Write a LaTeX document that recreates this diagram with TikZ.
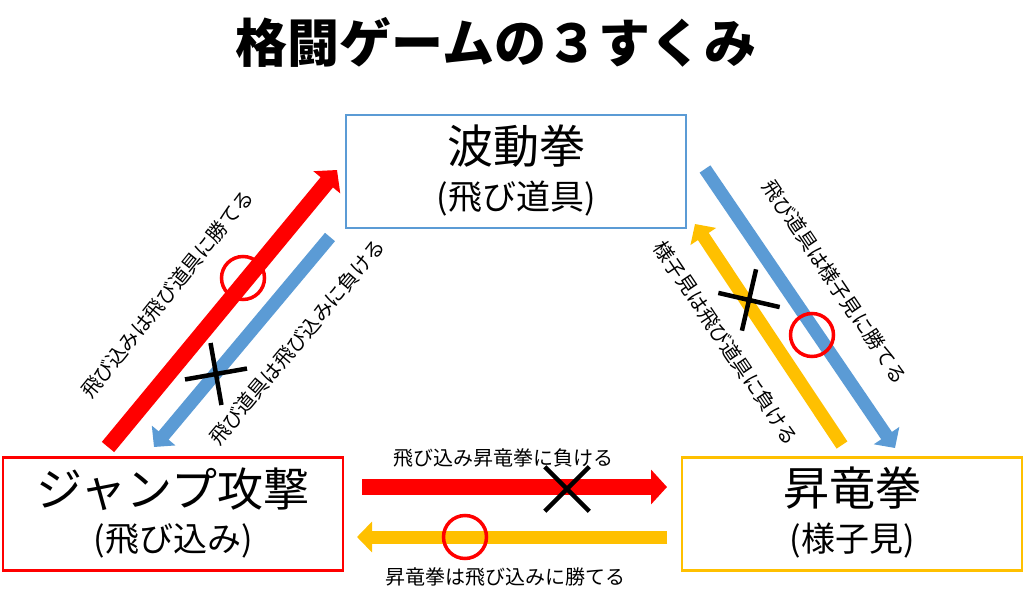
\documentclass[tikz,border=0pt]{standalone}
\usepackage{fontspec}
\setmainfont{Noto Sans CJK JP}
\usepackage{tikz}
\usetikzlibrary{arrows.meta,shapes.misc}
\definecolor{fgred}{HTML}{FF0000}
\definecolor{fgblue}{HTML}{5B9BD5}
\definecolor{fgyellow}{HTML}{FFC000}

\begin{document}
\begin{tikzpicture}[x=1pt,y=-1pt,
  box/.style={draw=#1,line width=2.5pt,minimum width=340pt,minimum height=113pt,inner sep=0pt},
  bigtxt/.style={font=\fontsize{46}{50}\selectfont,inner sep=0pt},
  subtxt/.style={font=\fontsize{34}{40}\selectfont,inner sep=0pt},
  lbl/.style={font=\fontsize{20}{24}\selectfont,inner sep=0pt},
  fatarrow/.style={draw=#1,line width=16pt,-{Triangle[length=16pt,width=34pt]}},
  slimarrow/.style={draw=#1,line width=13pt,-{Triangle[length=15pt,width=30pt]}},
  win/.style={circle,draw=fgred,line width=3.5pt,minimum size=43pt,inner sep=0pt},
  lose/.style={cross out,draw=black,line width=4.5pt,minimum size=40pt,inner sep=0pt}]
 \useasboundingbox (0,0) rectangle (1024,604);
 % title
 \node[font=\fontsize{52}{60}\selectfont\bfseries] (title) at (496,42) {格闘ゲームの３すくみ};
 % boxes
 \node[box=fgblue] (hadou) at (516,171.5) {};
 \node[bigtxt] (hadouname) at ([yshift=25pt]hadou.center) {波動拳};
 \node[subtxt] (hadousub) at ([yshift=-27pt]hadou.center) {(飛び道具)};
 \node[box=fgred] (jump) at (173,514) {};
 \node[bigtxt] (jumpname) at ([yshift=25pt]jump.center) {ジャンプ攻撃};
 \node[subtxt] (jumpsub) at ([yshift=-27pt]jump.center) {(飛び込み)};
 \node[box=fgyellow] (shoryu) at (852,514) {};
 \node[bigtxt] (shoryuname) at ([yshift=26pt]shoryu.center) {昇竜拳};
 \node[subtxt] (shoryusub) at ([yshift=-27pt]shoryu.center) {(様子見)};
 % arrow ends
 \coordinate (jhTail) at (108,447); \coordinate (jhTip) at (337,170);
 \coordinate (hjTail) at (330,237); \coordinate (hjTip) at (154,447);
 \coordinate (hsTail) at (705,169); \coordinate (hsTip) at (895,448);
 \coordinate (shTail) at (842,445); \coordinate (shTip) at (695,224);
 \coordinate (jsTail) at (362,487); \coordinate (jsTip) at (667,487);
 \coordinate (sjTail) at (667,537); \coordinate (sjTip) at (357,537);
 % arrows
 \draw[fatarrow=fgred] (jhTail) -- (jhTip);
 \draw[slimarrow=fgblue] (hjTail) -- (hjTip);
 \draw[slimarrow=fgblue] (hsTail) -- (hsTip);
 \draw[slimarrow=fgyellow] (shTail) -- (shTip);
 \draw[fatarrow=fgred] (jsTail) -- (jsTip);
 \draw[slimarrow=fgyellow] (sjTail) -- (sjTip);
 % wins and losses
 \foreach \n/\p in {1/{(243,278)}, 2/{(812,335)}, 3/{(465,537)}}
   \node[win] (ok\n) at \p {};
 \foreach \n/\p/\a in {1/{(216,374)}/55, 2/{(749,300)}/32, 3/{(567,489)}/0}
   \node[lose,rotate=\a] (ng\n) at \p {};
 % labels
 \node[lbl,rotate=51] (jhLabel) at (167,294) {飛び込みは飛び道具に勝てる};
 \node[lbl,rotate=50] (hjLabel) at (297,342) {飛び道具は飛び込みに負ける};
 \node[lbl,rotate=-56] (hsLabel) at (835,282) {飛び道具は様子見に勝てる};
 \node[lbl,rotate=-56] (shLabel) at (726,343) {様子見は飛び道具に負ける};
 \node[lbl] (jsLabel) at (503,458) {飛び込み昇竜拳に負ける};
 \node[lbl] (sjLabel) at (505,577) {昇竜拳は飛び込みに勝てる};
\end{tikzpicture}
\end{document}
